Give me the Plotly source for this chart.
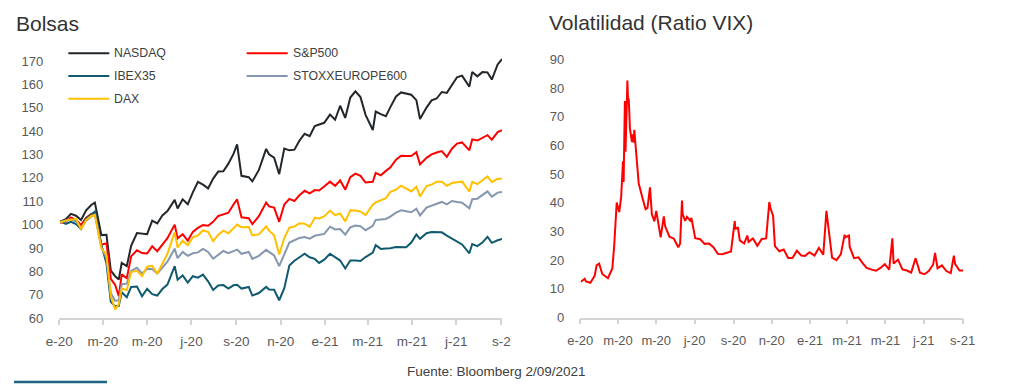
import plotly.graph_objects as go

# ---------------- data ----------------
dates = [
    "2020-01-02", "2020-01-10", "2020-01-17", "2020-01-24", "2020-01-31",
    "2020-02-07", "2020-02-14", "2020-02-19", "2020-02-28",
    "2020-03-06", "2020-03-12", "2020-03-18", "2020-03-23", "2020-03-27",
    "2020-04-03", "2020-04-09", "2020-04-17", "2020-04-24",
    "2020-05-01", "2020-05-08", "2020-05-15", "2020-05-22", "2020-05-29",
    "2020-06-08", "2020-06-12", "2020-06-19", "2020-06-26",
    "2020-07-03", "2020-07-10", "2020-07-17", "2020-07-24", "2020-07-31",
    "2020-08-07", "2020-08-14", "2020-08-21", "2020-08-28",
    "2020-09-02", "2020-09-08", "2020-09-18", "2020-09-23",
    "2020-10-02", "2020-10-12", "2020-10-16", "2020-10-23", "2020-10-30",
    "2020-11-06", "2020-11-13", "2020-11-20", "2020-11-27",
    "2020-12-04", "2020-12-11", "2020-12-18", "2020-12-24", "2020-12-31",
    "2021-01-08", "2021-01-15", "2021-01-22", "2021-01-29",
    "2021-02-05", "2021-02-12", "2021-02-19", "2021-02-26",
    "2021-03-08", "2021-03-12", "2021-03-19", "2021-03-26",
    "2021-04-01", "2021-04-09", "2021-04-16", "2021-04-23", "2021-04-30",
    "2021-05-07", "2021-05-12", "2021-05-21", "2021-05-28",
    "2021-06-04", "2021-06-11", "2021-06-18", "2021-06-25",
    "2021-07-02", "2021-07-09", "2021-07-19", "2021-07-23", "2021-07-30",
    "2021-08-06", "2021-08-13", "2021-08-19", "2021-08-27", "2021-09-02",
]

nasdaq = [
    101.3, 102.3, 104.6, 103.8, 102.0,
    106.1, 108.4, 109.4, 95.5,
    95.6, 80.3, 77.9, 76.5, 83.6,
    82.2, 90.9, 96.4, 96.2,
    95.9, 101.7, 100.5, 103.9, 105.8,
    110.6, 106.9, 110.8, 108.7,
    113.8, 118.3, 117.1, 115.5, 119.7,
    122.7, 122.8, 126.1, 130.3,
    134.4, 120.9, 120.3, 118.5,
    123.4, 132.4, 130.1, 128.7, 121.6,
    132.6, 131.8, 132.1, 136.0,
    138.9, 137.9, 142.2, 142.7, 143.6,
    147.1, 144.9, 150.9, 145.7,
    154.4, 157.1, 154.6, 147.0,
    140.5, 148.4, 147.3, 146.4,
    150.2, 154.9, 156.6, 156.2, 155.6,
    153.3, 145.2, 150.1, 153.2,
    154.0, 156.8, 156.4, 160.0,
    163.1, 163.8, 159.1, 165.4, 163.5,
    165.3, 165.2, 162.1, 168.6, 170.9,
]

sp500 = [
    100.8, 101.1, 103.1, 102.0, 99.8,
    103.0, 104.6, 104.8, 91.4,
    92.0, 76.8, 74.2, 69.3, 78.7,
    77.0, 86.4, 89.0, 87.8,
    87.6, 90.7, 88.6, 91.5, 94.2,
    100.0, 94.1, 95.9, 93.1,
    96.9, 98.6, 99.8, 99.5, 101.2,
    103.7, 104.4, 105.1, 108.6,
    110.8, 103.1, 102.7, 100.2,
    103.6, 109.4, 107.8, 107.3, 101.2,
    108.6, 111.0, 110.1, 112.6,
    114.5, 113.4, 114.8, 114.6, 116.3,
    118.4, 116.6, 118.9, 115.0,
    120.3, 121.8, 120.9, 118.0,
    118.3, 122.1, 121.1, 123.0,
    124.4, 127.8, 129.5, 129.4, 129.4,
    131.0, 125.8, 128.6, 130.1,
    130.9, 131.5, 129.0, 132.5,
    134.7, 135.2, 131.8, 136.5, 136.0,
    137.3, 138.3, 136.4, 139.6, 140.4,
]

ibex35 = [
    101.5, 100.3, 101.2, 100.2, 98.1,
    102.7, 104.3, 105.6, 91.3,
    83.3, 66.9, 65.0, 65.2, 71.0,
    68.9, 73.3, 73.5, 69.3,
    72.5, 70.2, 69.6, 72.4, 74.3,
    82.2, 76.4, 78.2, 75.2,
    77.9, 77.3, 78.6, 75.7, 72.0,
    73.9, 74.1, 72.6, 74.0,
    74.2, 72.6, 73.3, 69.6,
    70.7, 73.3, 72.2, 72.1, 67.6,
    72.8, 82.5, 84.5, 86.0,
    87.5, 86.0, 85.3, 83.6, 85.0,
    87.5, 85.9, 84.6, 81.2,
    84.6, 84.6, 84.4, 86.1,
    88.0, 91.2, 89.6, 89.8,
    89.9, 90.4, 90.2, 90.3, 92.3,
    95.8, 93.9, 96.3, 96.8,
    96.9, 96.7, 95.3, 94.0,
    93.0, 91.5, 87.7, 91.7, 90.8,
    92.3, 94.8, 92.2, 93.3, 93.8,
]

stoxx600 = [
    101.2, 101.3, 102.2, 101.2, 98.7,
    101.7, 103.4, 104.3, 90.3,
    85.6, 70.6, 67.3, 67.6, 74.5,
    74.7, 80.2, 81.5, 79.1,
    81.0, 81.0, 79.0, 81.8, 84.1,
    89.7, 85.6, 88.3, 86.6,
    87.7, 88.1, 89.6, 88.3, 85.4,
    87.1, 88.7, 87.8, 88.7,
    89.3, 87.5, 88.3, 85.3,
    86.6, 89.2, 88.3, 86.8, 82.2,
    87.3, 92.3, 93.3, 94.3,
    94.7, 94.0, 95.2, 95.5, 96.0,
    99.1, 97.9, 98.1, 95.7,
    98.8, 99.6, 99.3, 97.6,
    99.5, 102.0, 102.2, 102.4,
    103.4, 105.1, 106.1, 105.8, 105.3,
    106.8, 103.9, 107.3, 108.0,
    108.7, 109.7, 108.7, 110.1,
    109.7, 109.4, 107.0, 110.9, 111.1,
    112.8, 114.2, 112.0, 113.7, 114.0,
]

dax = [
    101.0, 101.8, 102.1, 102.5, 98.0,
    102.0, 103.7, 104.1, 89.7,
    87.1, 69.2, 63.7, 66.0, 72.7,
    71.9, 79.7, 80.2, 78.0,
    82.0, 82.3, 79.0, 83.6, 87.5,
    96.8, 90.2, 93.1, 91.2,
    94.6, 95.4, 97.5, 96.9, 92.9,
    95.7, 97.4, 96.3, 98.4,
    100.0, 98.9, 99.0, 95.4,
    95.8, 99.2, 97.4, 95.4, 87.2,
    94.2, 98.7, 99.2, 100.6,
    100.4, 99.0, 102.9, 102.6, 103.5,
    106.0, 104.1, 104.7, 101.4,
    106.1, 106.0, 105.6, 104.1,
    108.5, 109.5, 110.4, 111.3,
    114.0, 115.0, 116.7, 115.3, 114.2,
    116.2, 112.1, 116.5, 117.1,
    118.4, 118.4, 116.6, 117.8,
    118.1, 118.4, 114.2, 118.3, 117.3,
    119.0, 120.6, 118.2, 119.6, 119.6,
]

vix_dates = [
    "2020-01-02", "2020-01-08", "2020-01-10", "2020-01-17", "2020-01-24", "2020-01-27", "2020-01-31",
    "2020-02-05", "2020-02-14", "2020-02-21", "2020-02-24", "2020-02-27", "2020-02-28",
    "2020-03-03", "2020-03-05", "2020-03-06", "2020-03-09", "2020-03-10", "2020-03-12", "2020-03-13",
    "2020-03-16", "2020-03-17", "2020-03-18", "2020-03-19", "2020-03-20", "2020-03-23", "2020-03-24",
    "2020-03-25", "2020-03-26", "2020-03-27", "2020-03-31",
    "2020-04-03", "2020-04-09", "2020-04-14", "2020-04-17", "2020-04-21", "2020-04-24", "2020-04-28",
    "2020-05-01", "2020-05-08", "2020-05-13", "2020-05-15", "2020-05-22", "2020-05-29",
    "2020-06-05", "2020-06-08", "2020-06-11", "2020-06-12", "2020-06-16", "2020-06-19", "2020-06-24", "2020-06-26",
    "2020-07-02", "2020-07-10", "2020-07-17", "2020-07-24", "2020-07-31",
    "2020-08-07", "2020-08-14", "2020-08-21", "2020-08-28",
    "2020-09-03", "2020-09-04", "2020-09-08", "2020-09-11", "2020-09-18", "2020-09-23", "2020-09-25",
    "2020-10-02", "2020-10-09", "2020-10-16", "2020-10-23", "2020-10-28", "2020-10-30",
    "2020-11-03", "2020-11-06", "2020-11-13", "2020-11-20", "2020-11-27",
    "2020-12-04", "2020-12-11", "2020-12-18", "2020-12-24", "2020-12-31",
    "2021-01-08", "2021-01-15", "2021-01-22", "2021-01-27", "2021-01-29",
    "2021-02-02", "2021-02-05", "2021-02-12", "2021-02-19", "2021-02-25", "2021-02-26",
    "2021-03-04", "2021-03-05", "2021-03-12", "2021-03-19", "2021-03-26",
    "2021-04-01", "2021-04-09", "2021-04-16", "2021-04-23", "2021-04-30",
    "2021-05-07", "2021-05-12", "2021-05-14", "2021-05-21", "2021-05-28",
    "2021-06-04", "2021-06-11", "2021-06-18", "2021-06-25",
    "2021-07-02", "2021-07-09", "2021-07-16", "2021-07-19", "2021-07-23", "2021-07-30",
    "2021-08-06", "2021-08-13", "2021-08-18", "2021-08-20", "2021-08-27", "2021-09-02",
]

vix = [
    12.5, 13.5, 12.6, 12.1, 14.6, 18.2, 18.8,
    15.2, 13.7, 17.1, 25.0, 39.2, 40.1,
    36.8, 39.6, 41.9, 54.5, 47.3, 75.5, 57.8,
    82.7, 75.9, 76.5, 72.0, 66.0, 61.6, 61.7,
    63.9, 61.0, 65.5, 53.5,
    46.8, 41.7, 37.8, 38.2, 45.4, 35.9, 33.6,
    37.2, 28.0, 35.3, 31.9, 28.2, 27.5,
    24.5, 25.8, 40.8, 36.1, 33.7, 35.1, 33.8, 34.7,
    27.7, 27.3, 25.7, 25.8, 24.5,
    22.2, 22.1, 22.5, 23.0,
    33.6, 30.8, 31.5, 26.9, 25.8, 28.6, 26.4,
    27.6, 25.0, 27.4, 27.6, 40.3, 38.0,
    35.5, 24.9, 23.1, 23.7, 20.8,
    20.8, 23.3, 21.6, 21.5, 22.8,
    21.6, 24.3, 21.9, 37.2, 33.1,
    25.6, 20.9, 20.0, 22.1, 28.9, 28.0,
    28.6, 24.7, 20.7, 21.0, 18.9,
    17.3, 16.7, 16.3, 17.3, 18.6,
    16.7, 27.6, 18.8, 20.2, 16.8,
    16.4, 15.7, 20.7, 15.6,
    15.1, 16.2, 18.5, 22.5, 17.2, 18.2,
    16.2, 15.5, 21.6, 18.6, 16.4, 16.4,
]

tick_dates = ["2020-01-01", "2020-03-01", "2020-05-01", "2020-07-01", "2020-09-01", "2020-11-01",
              "2021-01-01", "2021-03-01", "2021-05-01", "2021-07-01", "2021-09-01"]
tick_labels_left = ["e-20", "m-20", "m-20", "j-20", "s-20", "n-20", "e-21", "m-21", "m-21", "j-21", "s-2"]
tick_labels_right = ["e-20", "m-20", "m-20", "j-20", "s-20", "n-20", "e-21", "m-21", "m-21", "j-21", "s-21"]

series_names = ["NASDAQ", "S&P500", "IBEX35", "STOXXEUROPE600", "DAX"]
series_values = [nasdaq, sp500, ibex35, stoxx600, dax]
series_colors = ["#22272b", "#ff0000", "#0f5a6e", "#8597ae", "#ffc000"]

# ---------------- layout helpers ----------------
W, H = 1024, 385
def px(x):
    return x / W
def py(y):
    return 1 - y / H

FONT = "Liberation Sans, Arial, sans-serif"
TICK_COLOR = "#595959"
AXIS_COLOR = "#d4d4d4"

fig = go.Figure()

for name, vals, col in zip(series_names, series_values, series_colors):
    fig.add_trace(go.Scatter(x=dates, y=vals, mode="lines", name=name,
                             line=dict(color=col, width=2), xaxis="x", yaxis="y",
                             showlegend=False, hoverinfo="skip"))

fig.add_trace(go.Scatter(x=vix_dates, y=vix, mode="lines", name="VIX",
                         line=dict(color="#ff0000", width=2), xaxis="x2", yaxis="y2",
                         showlegend=False, hoverinfo="skip"))

# left panel geometry (pixels)
L_x0, L_x1 = 59.3, 502.0
L_y60, L_pu = 318.0, 2.335
L_ymax = 172
L_top = L_y60 - (L_ymax - 60) * L_pu
# right panel geometry
R_x0, R_x1 = 580.3, 963.3
R_y0, R_pu = 317.5, 2.866
R_ymax = 92
R_top = R_y0 - R_ymax * R_pu

xaxis_common = dict(
    type="date", showgrid=False, zeroline=False, automargin=False,
    showline=True, linecolor=AXIS_COLOR, linewidth=1.5,
    ticks="outside", ticklen=5, tickwidth=1.5, tickcolor=AXIS_COLOR,
    tickvals=tick_dates, tickfont=dict(family=FONT, size=13.5, color=TICK_COLOR),
    ticklabelstandoff=5, fixedrange=True,
)
yaxis_common = dict(
    showgrid=False, zeroline=False, showline=False, ticks="", automargin=False,
    tickfont=dict(family=FONT, size=13, color=TICK_COLOR), ticklabelstandoff=15,
    fixedrange=True,
)

fig.update_layout(
    template="none",
    width=W, height=H, autosize=False,
    margin=dict(l=0, r=0, t=0, b=0, pad=0, autoexpand=False),
    paper_bgcolor="white", plot_bgcolor="white",
    showlegend=False,
    xaxis=dict(xaxis_common, domain=[px(L_x0), px(L_x1)],
               range=["2020-01-01", "2021-09-02"], ticktext=tick_labels_left, anchor="y"),
    yaxis=dict(yaxis_common, domain=[py(L_y60), py(L_top)], range=[60, L_ymax],
               tickvals=list(range(60, 171, 10)), anchor="x"),
    xaxis2=dict(xaxis_common, domain=[px(R_x0), px(R_x1)],
                range=["2020-01-01", "2021-09-02"], ticktext=tick_labels_right, anchor="y2",
                tickfont=dict(family=FONT, size=13, color=TICK_COLOR)),
    yaxis2=dict(yaxis_common, domain=[py(R_y0), py(R_top)], range=[0, R_ymax],
                tickvals=list(range(0, 91, 10)), anchor="x2"),
)

annotations = []
shapes = []

# titles
annotations.append(dict(text="Bolsas", x=px(14), y=py(23), xref="paper", yref="paper",
                        xanchor="left", yanchor="middle", showarrow=False,
                        font=dict(family=FONT, size=21, color="#333333")))
annotations.append(dict(text="Volatilidad (Ratio VIX)", x=px(547), y=py(22), xref="paper", yref="paper",
                        xanchor="left", yanchor="middle", showarrow=False,
                        font=dict(family=FONT, size=21, color="#333333")))

# manual legend (2 columns)
legend_pos = {
    "NASDAQ": (68.3, 53.3), "IBEX35": (68.3, 76.0), "DAX": (68.3, 98.7),
    "S&P500": (246.7, 53.3), "STOXXEUROPE600": (246.7, 76.0),
}
for name, col in zip(series_names, series_colors):
    lx, ly = legend_pos[name]
    shapes.append(dict(type="line", xref="paper", yref="paper",
                       x0=px(lx), x1=px(lx + 41), y0=py(ly), y1=py(ly),
                       line=dict(color=col, width=2)))
    annotations.append(dict(text=name, x=px(lx + 44), y=py(ly), xref="paper", yref="paper",
                            xanchor="left", yanchor="middle", showarrow=False,
                            font=dict(family=FONT, size=12.3, color="#404040")))

# source
annotations.append(dict(text="Fuente: Bloomberg 2/09/2021", x=px(496.5), y=py(371), xref="paper", yref="paper",
                        xanchor="center", yanchor="middle", showarrow=False,
                        font=dict(family=FONT, size=13.5, color="#404040")))

# bottom-left accent line
shapes.append(dict(type="line", xref="paper", yref="paper",
                   x0=px(14), x1=px(107), y0=py(382), y1=py(382),
                   line=dict(color="#1f6480", width=2.5)))

fig.update_layout(annotations=annotations, shapes=shapes)

fig.write_html(
    "out.html",
    config={"responsive": False, "displayModeBar": False},
    post_script="document.body.style.margin='0';document.body.style.padding='0';"
                "document.documentElement.style.overflow='hidden';",
)
